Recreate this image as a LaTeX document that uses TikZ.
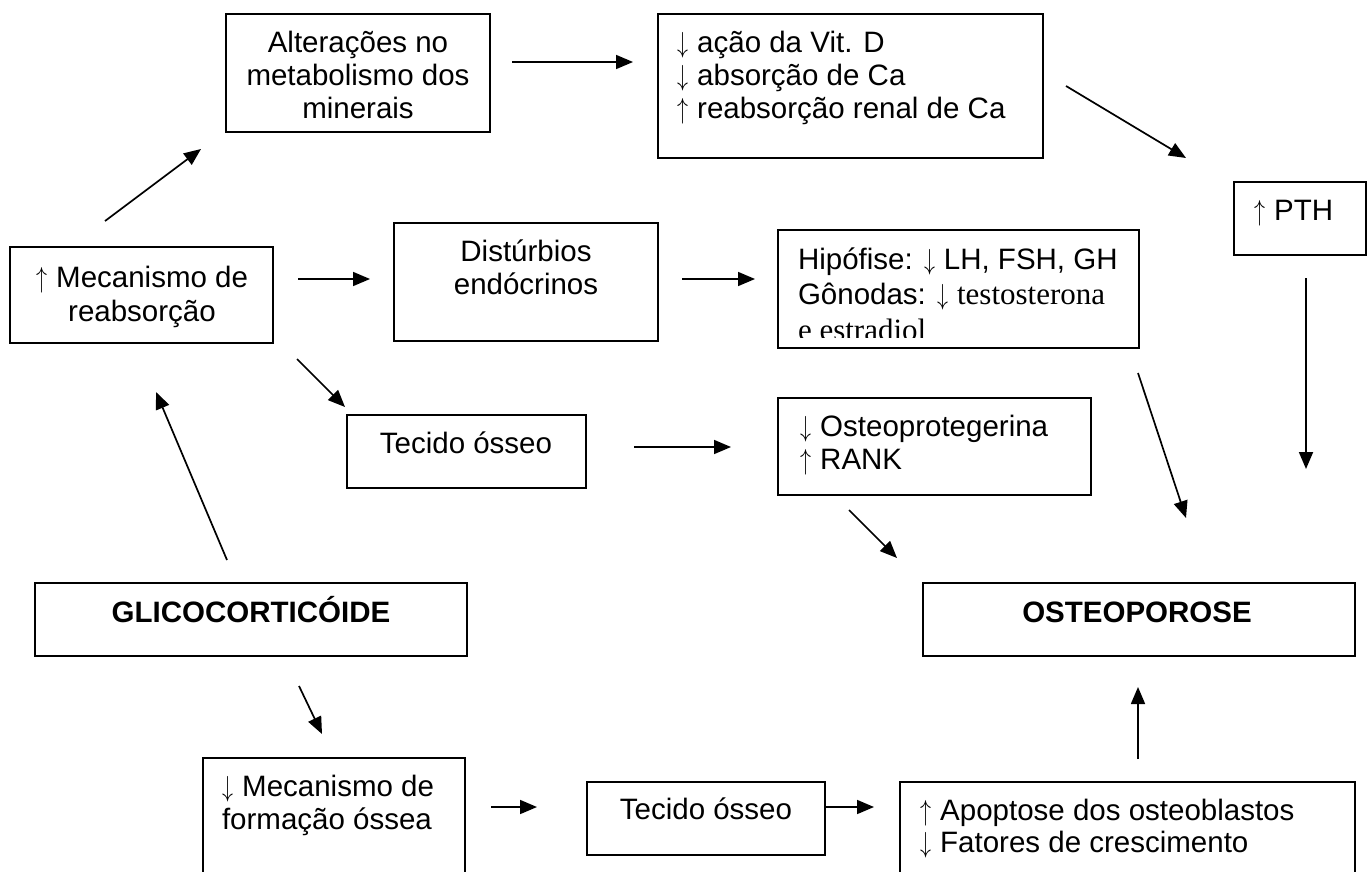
\documentclass[tikz,border=0pt]{standalone}
\usepackage{graphicx}
\usepackage{fontspec}
\setmainfont{Liberation Sans}
\newfontfamily\timesf{Liberation Serif}
\usetikzlibrary{arrows.meta}
\tikzset{
  boxst/.style={draw,line width=1.8pt,inner sep=0pt,outer sep=0pt,rectangle},
  txt/.style={inner sep=0pt,outer sep=0pt,font=\fontsize{29.5}{33}\selectfont},
  arr/.style={line width=1.7pt,-{Triangle[length=17pt,width=14pt]}}
}
\newcommand{\lines}[2][l]{\begin{tabular}[t]{@{}#1@{}}#2\end{tabular}}
\newcommand{\up}{\makebox[12pt][c]{\fontsize{10}{12}\selectfont\scalebox{2.2}[2.9]{$\uparrow$}}}
\newcommand{\dn}{\makebox[12pt][c]{\fontsize{10}{12}\selectfont\scalebox{2.2}[2.9]{$\downarrow$}}}
\begin{document}
\begin{tikzpicture}[x=1pt,y=-1pt]
\useasboundingbox (0,0) rectangle (1370,872);
\clip (0,0) rectangle (1370,872);
\fill[white] (0,0) rectangle (1370,872);
% boxes
\node[boxst,minimum width=264,minimum height=118] (alt) at (358,73) {};
\node[boxst,minimum width=385,minimum height=144] (vit) at (850.5,86) {};
\node[boxst,minimum width=132,minimum height=73] (pth) at (1300,218.5) {};
\node[boxst,minimum width=263,minimum height=96] (mec) at (141.5,295) {};
\node[boxst,minimum width=264,minimum height=118] (dist) at (526,282) {};
\node[boxst,minimum width=361,minimum height=118] (hip) at (958.5,289) {};
\node[boxst,minimum width=239,minimum height=73] (tec1) at (466.5,451.5) {};
\node[boxst,minimum width=313,minimum height=97] (opg) at (934.5,446.5) {};
\node[boxst,minimum width=432,minimum height=73] (glico) at (251,619.5) {};
\node[boxst,minimum width=432,minimum height=73] (osteo) at (1139,619.5) {};
\node[boxst,minimum width=262,minimum height=132] (form) at (334,824) {};
\node[boxst,minimum width=238,minimum height=73] (tec2) at (706,818.5) {};
\node[boxst,minimum width=455,minimum height=108] (apop) at (1127.5,836) {};
% texts
\node[txt,anchor=base] (altT) at (358,53) {\lines[c]{Alterações no\\metabolismo dos\\minerais}};
\node[txt,anchor=base west] (vitT) at (677,53) {\lines{\dn{} ação da Vit. D\\\dn{} absorção de Ca\\\up{} reabsorção renal de Ca}};
\node[txt,anchor=base west] (pthT) at (1254,220) {\up{} PTH};
\node[txt,anchor=base,font=\fontsize{29.5}{34}\selectfont] (mecT) at (142,287) {\lines[c]{\up{} Mecanismo de\\reabsorção}};
\node[txt,anchor=base] (distT) at (526,261) {\lines[c]{Distúrbios\\endócrinos}};
\begin{scope}
\clip (778,230) rectangle (1139,337);
\node[txt,anchor=base west,font=\fontsize{29.5}{35}\selectfont] (hipT) at (798,269) {\lines{Hipófise: \dn{} LH, FSH, GH\\Gônodas: \dn{} {\timesf\fontsize{31}{35}\selectfont testosterona}\\[1pt]{\timesf\fontsize{31}{35}\selectfont e estradiol}}};
\end{scope}
\node[txt,anchor=base] (tec1T) at (466,453) {Tecido ósseo};
\node[txt,anchor=base west] (opgT) at (800,436) {\lines{\dn{} Osteoprotegerina\\\up{} RANK}};
\node[txt,anchor=base,font=\fontsize{29.5}{33}\selectfont\bfseries] (glicoT) at (251,622) {GLICOCORTICÓIDE};
\node[txt,anchor=base,font=\fontsize{29.5}{33}\selectfont\bfseries] (osteoT) at (1137,622) {OSTEOPOROSE};
\node[txt,anchor=base west] (formT) at (222,796) {\lines{\dn{} Mecanismo de\\formação óssea}};
\node[txt,anchor=base] (tec2T) at (706,819) {Tecido ósseo};
\node[txt,anchor=base west,font=\fontsize{29.5}{32}\selectfont] (apopT) at (920,820) {\lines{\up{} Apoptose dos osteoblastos\\\dn{} Fatores de crescimento}};
% connector end points
\coordinate (a1s) at (512,62);   \coordinate (a1e) at (633,62);
\coordinate (a2s) at (1066,86);  \coordinate (a2e) at (1186,158);
\coordinate (a3s) at (1306,278); \coordinate (a3e) at (1306,469);
\coordinate (a4s) at (298,279);  \coordinate (a4e) at (370,279);
\coordinate (a5s) at (682,279);  \coordinate (a5e) at (755,279);
\coordinate (a6s) at (105,221);  \coordinate (a6e) at (201,149);
\coordinate (a7s) at (297,359);  \coordinate (a7e) at (345,407);
\coordinate (a8s) at (634,447);  \coordinate (a8e) at (731,447);
\coordinate (a9s) at (849,510);  \coordinate (a9e) at (897,558);
\coordinate (a10s) at (1138,373); \coordinate (a10e) at (1186,518);
\coordinate (a11s) at (227,560); \coordinate (a11e) at (156,392);
\coordinate (a12s) at (299,686); \coordinate (a12e) at (322,734);
\coordinate (a13s) at (491,807); \coordinate (a13e) at (537,807);
\coordinate (a14s) at (825,807); \coordinate (a14e) at (874,807);
\coordinate (a15s) at (1138,759); \coordinate (a15e) at (1138,687);
% connectors
\draw[arr] (a1s) -- (a1e);
\draw[arr] (a2s) -- (a2e);
\draw[arr] (a3s) -- (a3e);
\draw[arr] (a4s) -- (a4e);
\draw[arr] (a5s) -- (a5e);
\draw[arr] (a6s) -- (a6e);
\draw[arr] (a7s) -- (a7e);
\draw[arr] (a8s) -- (a8e);
\draw[arr] (a9s) -- (a9e);
\draw[arr] (a10s) -- (a10e);
\draw[arr] (a11s) -- (a11e);
\draw[arr] (a12s) -- (a12e);
\draw[arr] (a13s) -- (a13e);
\draw[arr] (a14s) -- (a14e);
\draw[arr] (a15s) -- (a15e);
\end{tikzpicture}
\end{document}
